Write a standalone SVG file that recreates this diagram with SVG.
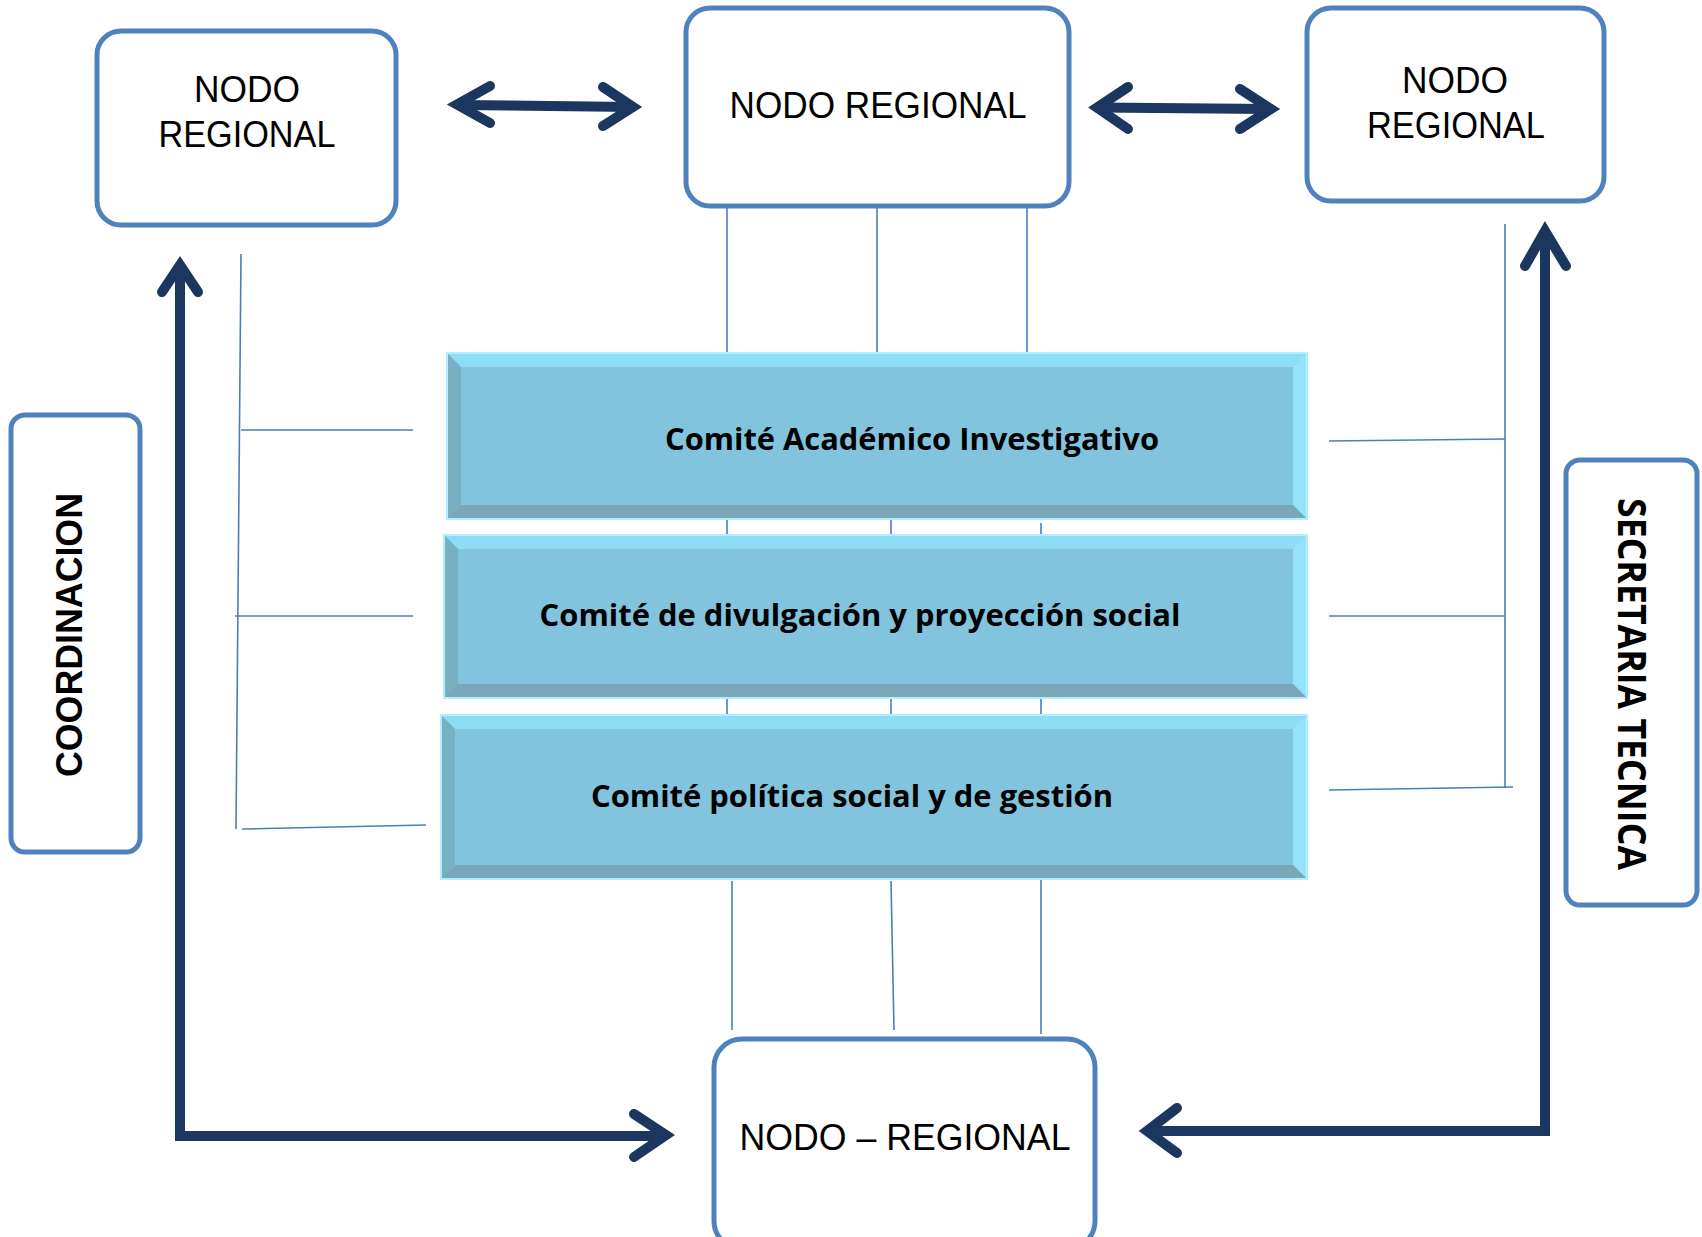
<svg xmlns="http://www.w3.org/2000/svg" width="1702" height="1237" viewBox="0 0 1702 1237">
<style>
.node{fill:#fff;stroke:#4f81bd;stroke-width:5}
.nt{font-family:"Liberation Sans",Arial,sans-serif;font-size:37px;fill:#000;text-anchor:middle}
.ct{font-family:"Open Sans","Liberation Sans",sans-serif;font-weight:bold;font-size:31px;fill:#000;text-anchor:middle}
.face{fill:#82c4dd}
.bt{fill:#8fdcf6}
.bl{fill:#79afc3}
.br{fill:#96e2fb}
.bb{fill:#7aa7b8}
.edge{fill:none;stroke:#aef0ff;stroke-width:2}
.thin{fill:none;stroke:#4a7ebb;stroke-width:1.6}
.heavy{fill:none;stroke:#1b3760;stroke-width:10;stroke-linejoin:miter}
.head{fill:none;stroke:#1b3760;stroke-width:10;stroke-linecap:round;stroke-linejoin:miter}
</style>
<g id="connectors">
<line class="thin" x1="727" y1="207" x2="727" y2="353"/>
<line class="thin" x1="877" y1="207" x2="877" y2="353"/>
<line class="thin" x1="1027" y1="207" x2="1027" y2="353"/>
<line class="thin" x1="727" y1="519" x2="727" y2="536"/>
<line class="thin" x1="891" y1="519" x2="891" y2="536"/>
<line class="thin" x1="1041" y1="523" x2="1041" y2="538"/>
<line class="thin" x1="727" y1="699" x2="727" y2="716"/>
<line class="thin" x1="891" y1="699" x2="891" y2="716"/>
<line class="thin" x1="1041" y1="699" x2="1041" y2="716"/>
<line class="thin" x1="786" y1="580" x2="786" y2="595"/>
<line class="thin" x1="732" y1="881" x2="732" y2="1030"/>
<line class="thin" x1="891" y1="881" x2="894" y2="1030"/>
<line class="thin" x1="1041" y1="879" x2="1041" y2="1034"/>
<line class="thin" x1="241" y1="254" x2="236" y2="829"/>
<line class="thin" x1="241" y1="430" x2="413" y2="430"/>
<line class="thin" x1="235" y1="616" x2="413" y2="616"/>
<line class="thin" x1="242" y1="829" x2="426" y2="825"/>
<line class="thin" x1="1505" y1="224" x2="1505" y2="788"/>
<line class="thin" x1="1329" y1="441" x2="1505" y2="439"/>
<line class="thin" x1="1329" y1="616" x2="1505" y2="616"/>
<line class="thin" x1="1329" y1="790" x2="1513" y2="787"/>
<line class="heavy" x1="458" y1="105" x2="632" y2="107"/>
<polyline class="head" points="490,86 457,104.5 490,123"/>
<polyline class="head" points="603,87 633,107 603,126"/>
<line class="heavy" x1="1098" y1="107.5" x2="1270" y2="109"/>
<polyline class="head" points="1128,87 1097,107.5 1128,129"/>
<polyline class="head" points="1240,89 1271,109 1240,129"/>
<polyline class="heavy" points="180,266 180,1136 665,1136"/>
<polyline class="head" points="162,292 180,265 198,292"/>
<polyline class="head" points="634,1114 666,1135 634,1157"/>
<polyline class="heavy" points="1545,231 1545,1131 1147,1131"/>
<polyline class="head" points="1525,266 1545,231 1566,266"/>
<polyline class="head" points="1177,1108 1147,1131 1177,1153"/>
</g>
<g id="node-left">
<rect class="node" x="97" y="31" width="299" height="194" rx="24"/>
<text class="nt" x="247" y="102" textLength="106" lengthAdjust="spacingAndGlyphs">NODO</text>
<text class="nt" x="247" y="147" textLength="177" lengthAdjust="spacingAndGlyphs">REGIONAL</text>
</g>
<g id="node-center">
<rect class="node" x="686" y="8" width="383" height="198" rx="24"/>
<text class="nt" x="878" y="118" textLength="297" lengthAdjust="spacingAndGlyphs">NODO REGIONAL</text>
</g>
<g id="node-right">
<rect class="node" x="1307" y="8" width="297" height="193" rx="24"/>
<text class="nt" x="1455" y="93" textLength="106" lengthAdjust="spacingAndGlyphs">NODO</text>
<text class="nt" x="1456" y="138" textLength="178" lengthAdjust="spacingAndGlyphs">REGIONAL</text>
</g>
<g id="node-bottom">
<rect class="node" x="714" y="1039" width="381" height="210" rx="28"/>
<text class="nt" x="905" y="1150" textLength="331" lengthAdjust="spacingAndGlyphs">NODO – REGIONAL</text>
</g>
<g id="coordinacion">
<rect class="node" x="11" y="415" width="129" height="437" rx="14"/>
<text transform="translate(82,635) rotate(-90)" x="0" y="0" text-anchor="middle" font-family="Liberation Sans, Arial, sans-serif" font-weight="bold" font-size="36" textLength="284" lengthAdjust="spacingAndGlyphs">COORDINACION</text>
</g>
<g id="secretaria">
<rect class="node" x="1566" y="460" width="131" height="445" rx="14"/>
<text transform="translate(1618,684) rotate(90)" x="0" y="0" text-anchor="middle" font-family="Open Sans, Liberation Sans, sans-serif" font-weight="bold" font-size="40" textLength="372" lengthAdjust="spacingAndGlyphs">SECRETARIA TECNICA</text>
</g>
<g id="comite-1">
<rect class="face" x="447" y="353" width="860" height="166"/>
<polygon class="bt" points="447,353 1307,353 1293,367 461,367"/>
<polygon class="bl" points="447,353 461,367 461,505 447,519"/>
<polygon class="br" points="1307,353 1307,519 1293,505 1293,367"/>
<polygon class="bb" points="447,519 461,505 1293,505 1307,519"/>
<rect class="edge" x="447" y="353" width="860" height="166"/>
<text class="ct" x="912" y="450" textLength="494" lengthAdjust="spacingAndGlyphs">Comité Académico Investigativo</text>
</g>
<g id="comite-2">
<rect class="face" x="444" y="535" width="863" height="163"/>
<polygon class="bt" points="444,535 1307,535 1293,549 458,549"/>
<polygon class="bl" points="444,535 458,549 458,684 444,698"/>
<polygon class="br" points="1307,535 1307,698 1293,684 1293,549"/>
<polygon class="bb" points="444,698 458,684 1293,684 1307,698"/>
<rect class="edge" x="444" y="535" width="863" height="163"/>
<text class="ct" x="860" y="626" textLength="641" lengthAdjust="spacingAndGlyphs">Comité de divulgación y proyección social</text>
</g>
<g id="comite-3">
<rect class="face" x="441" y="715" width="866" height="164"/>
<polygon class="bt" points="441,715 1307,715 1293,729 455,729"/>
<polygon class="bl" points="441,715 455,729 455,865 441,879"/>
<polygon class="br" points="1307,715 1307,879 1293,865 1293,729"/>
<polygon class="bb" points="441,879 455,865 1293,865 1307,879"/>
<rect class="edge" x="441" y="715" width="866" height="164"/>
<text class="ct" x="852" y="807" textLength="522" lengthAdjust="spacingAndGlyphs">Comité política social y de gestión</text>
</g>
</svg>
